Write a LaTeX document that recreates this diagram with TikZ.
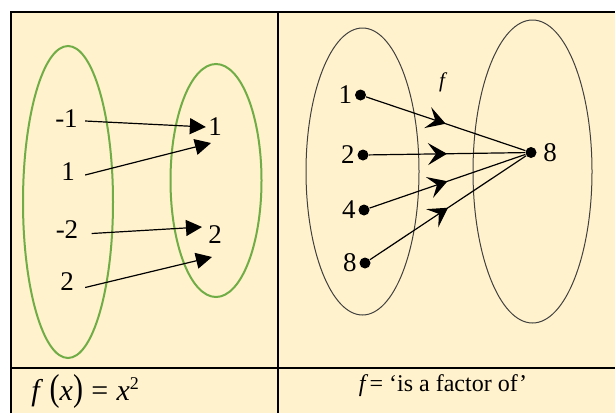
\documentclass[tikz,border=0pt]{standalone}
\usepackage{fontspec}
\setmainfont{Liberation Serif}
\usetikzlibrary{arrows.meta,positioning,decorations.markings}
\definecolor{cream}{HTML}{FFF2CC}
\definecolor{setgreen}{HTML}{70AD47}
\tikzset{
rule/.style={draw=black,line width=1pt},
gset/.style={draw=setgreen,line width=1pt},
kset/.style={draw=black!75,line width=.5pt},
elem/.style={font=\fontsize{13.5}{15}\selectfont,inner sep=1pt},
pnt/.style={circle,fill=black,inner sep=0pt,minimum size=5.5pt},
maps/.style={-{Triangle[length=8pt,width=8pt]},line width=.6pt},
factor/.style={line width=.6pt,postaction={decorate},
  decoration={markings,mark=at position .5 with {\arrow{Stealth[length=9.5pt,width=11pt,inset=4pt]}}}},
capt/.style={inner sep=1pt}
}

\begin{document}
\begin{tikzpicture}[x=.5pt,y=-.5pt]
\useasboundingbox (0,0) rectangle (615,413);
\fill[cream](11,12) rectangle (615,413);
\draw[rule](11,413)--(11,12)--(615,12);
\draw[rule](278,12)--(278,413);
\draw[rule](11,368)--(615,368);
% left cell: f(x)=x^2
\draw[gset](68,202) ellipse [x radius=22.5pt,y radius=78pt];
\draw[gset](216,180.5) ellipse [x radius=22.75pt,y radius=58.25pt];
\node[elem](a1) at (66.5,119){-1};
\node[elem](a2) at (68,172){1};
\node[elem](a3) at (67,229.5){-2};
\node[elem](a4) at (67,281.5){2};
\node[elem](b1) at (215,127){1};
\node[elem](b2) at (215,235){2};
\coordinate (h1) at (211,143);
\coordinate (h2) at (202,227);
\coordinate (h3) at (212,257);
\draw[maps]([xshift=2.5pt,yshift=-1pt]a1.east)--(b1.west);
\draw[maps]([xshift=4pt,yshift=-1.5pt]a2.east)--(h1);
\draw[maps]([xshift=5.5pt,yshift=-2pt]a3.east)--(h2);
\draw[maps]([xshift=4.5pt,yshift=-3pt]a4.east)--(h3);
\node[capt,anchor=west,font=\fontsize{15}{17}\selectfont](fx) at (29,391)
  {\itshape f\,\,\upshape\scalebox{1}[1.25]{(}\itshape x\upshape\scalebox{1}[1.25]{)}\;=\;\itshape x\upshape\raisebox{.75ex}{\fontsize{9}{10}\selectfont 2}};
% right cell: is a factor of
\draw[kset](362.5,171.5) ellipse [x radius=28.25pt,y radius=71.75pt];
\draw[kset](532.5,171.5) ellipse [x radius=29.75pt,y radius=75.75pt];
\node[pnt,label={[elem]left:1}](d1) at (360.5,95){};
\node[pnt,label={[elem]left:2}](d2) at (363,155){};
\node[pnt,label={[elem]left:4}](d4) at (364,210){};
\node[pnt,label={[elem]left:8}](d8) at (365,263){};
\node[pnt,label={[elem,label distance=2pt]right:8}](t8) at (531,152.5){};
\node[font=\fontsize{10.5}{12}\selectfont\itshape](fl) at (442,82){f};
\draw[factor](d1)--(t8);
\draw[factor](d2)--(t8);
\draw[factor](d4)--(t8);
\draw[factor](d8)--(t8);
\node[capt,font=\fontsize{12}{14}\selectfont](fac) at (443,386)
  {{\itshape f}\,= ‘is a factor of’};
\end{tikzpicture}
\end{document}
